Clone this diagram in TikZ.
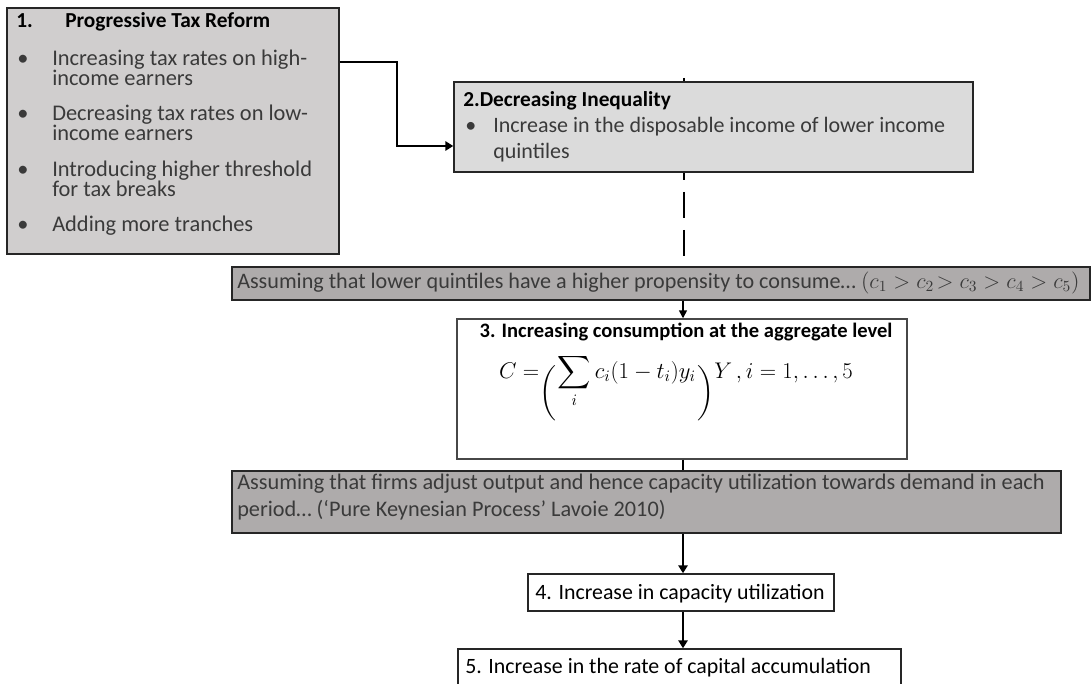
\RequirePackage{fix-cm}
\documentclass[tikz,border=0pt]{standalone}
\usepackage{exscale}
\usepackage{fontspec}
\setmainfont{Carlito}
\usetikzlibrary{arrows.meta,fit}
\definecolor{gA}{HTML}{D0CECE}
\definecolor{gB}{HTML}{DBDBDB}
\definecolor{gC}{HTML}{AEABAB}
\definecolor{bd}{HTML}{262626}
\definecolor{tx}{HTML}{3A3A3A}
\newcommand\fsz[1]{\fontsize{#1}{19}\selectfont}
\newcommand\parL{\raisebox{-16pt}{$\left(\vrule width 0pt height 15pt depth 15pt\right.$}}
\newcommand\parR{\raisebox{-16pt}{$\left.\vrule width 0pt height 15pt depth 15pt\right)$}}
\begin{document}
\begin{tikzpicture}[x=0.75pt,y=-0.75pt,
  box/.style={draw=bd, line width=1.1pt, inner sep=0pt},
  txt/.style={anchor=base west, inner sep=0pt, font=\fsz{16.8}, text=tx},
  txtb/.style={anchor=base west, inner sep=0pt, font=\fsz{16}\bfseries, text=black},
  txtr/.style={anchor=base west, inner sep=0pt, font=\fsz{16.4}, text=black},
  conn/.style={line width=2.2pt, draw=black, -{Triangle[width=7pt,length=6pt]}},
  thin/.style={line width=1.2pt, draw=black, -{Triangle[width=6pt,length=6pt]}},
  plain/.style={line width=2.2pt, draw=black},
  dashline/.style={line width=2.2pt, draw=black, dash pattern=on 19.5pt off 9pt},
]
\useasboundingbox (0,0) rectangle (1091,684);
\clip (0,0) rectangle (1091,684);

\coordinate (col) at (683,0);
\coordinate (k1) at (397,62);
\coordinate (k2) at (397,146);
\coordinate (d1) at (684,78);
\coordinate (d2) at (684,256);

% dashed link behind box 2
\draw[dashline] (d1) -- (d2);

% box 1
\node[box, fill=gA, fit={(7,8)(339,254)}] (b1) {};
\node[txtb] (b1n) at (16,28) {1.};
\node[txtb] (b1t) at (65,28) {Progressive Tax Reform};
\node[txt] (b1p1) at (17,66) {\textbullet};
\node[txt] (b1a1) at (52,66) {Increasing tax rates on high-};
\node[txt] (b1a2) at (52,86) {income earners};
\node[txt] (b1p2) at (17,121) {\textbullet};
\node[txt] (b1b1) at (52,121) {Decreasing tax rates on low-};
\node[txt] (b1b2) at (52,141) {income earners};
\node[txt] (b1p3) at (17,177) {\textbullet};
\node[txt] (b1c1) at (52,177) {Introducing higher threshold};
\node[txt] (b1c2) at (52,197) {for tax breaks};
\node[txt] (b1p4) at (17,232) {\textbullet};
\node[txt] (b1d1) at (52,232) {Adding more tranches};

% box 2
\node[box, fill=gB, fit={(454,82)(973,172)}] (b2) {};
\node[txtb] (b2t) at (463,107) {2.Decreasing Inequality};
\node[txt, font=\fsz{16.5}] (b2p) at (465,133) {\textbullet};
\node[txt, font=\fsz{16.5}] (b2a) at (493,133) {Increase in the disposable income of lower income};
\node[txt, font=\fsz{16.5}] (b2b) at (493,159) {quintiles};

% banner 1
\node[box, fill=gC, fit={(232,267)(1090,300)}] (a1) {};
\node[txt, font=\fsz{16.6}] (a1t) at (237,288) {Assuming that lower quintiles have a higher propensity to consume\dots\ $(c_1 > c_2\!> c_3 > c_4 > c_5)$};

% box 3
\node[box, fill=white, draw=bd!85, fit={(457,319)(907,459)}] (b3) {};
\node[txtb, anchor=base, font=\fsz{15.4}\bfseries] (b3t) at (686,337) {3. Increasing consumption at the aggregate level};
\node[anchor=base, inner sep=0pt, font=\fsz{17}] (b3f) at (676,378)
  {$C=$\parL$\displaystyle\sum_i c_i(1-t_i)y_i$\parR$Y\,,i=1,\dots,5$};

% banner 2
\node[box, fill=gC, fit={(232,471)(1061,533)}] (a2) {};
\node[txt, font=\fsz{16.7}] (a2a) at (237,489) {Assuming that firms adjust output and hence capacity utilization towards demand in each};
\node[txt, font=\fsz{16.7}] (a2b) at (237,516) {period\dots\ (‘Pure Keynesian Process’ Lavoie 2010)};

% box 4
\node[box, fill=white, fit={(528,574)(834,611)}] (b4) {};
\node[txtr, anchor=base] (b4t) at (680,599) {4. Increase in capacity utilization};

% box 5
\node[box, fill=white, fit={(458,649)(901,700)}] (b5) {};
\node[txtr] (b5t) at (465,673) {5. Increase in the rate of capital accumulation};

% connectors
\draw[conn] (b1.east |- k1) -- (k1) -- (k2) -- (b2.west |- k2);
\draw[thin] (a1.south -| col) -- (b3.north -| col);
\draw[plain] (b3.south -| col) -- (a2.north -| col);
\draw[conn] (a2.south -| col) -- (b4.north -| col);
\draw[conn] (b4.south -| col) -- (b5.north -| col);
\end{tikzpicture}
\end{document}
